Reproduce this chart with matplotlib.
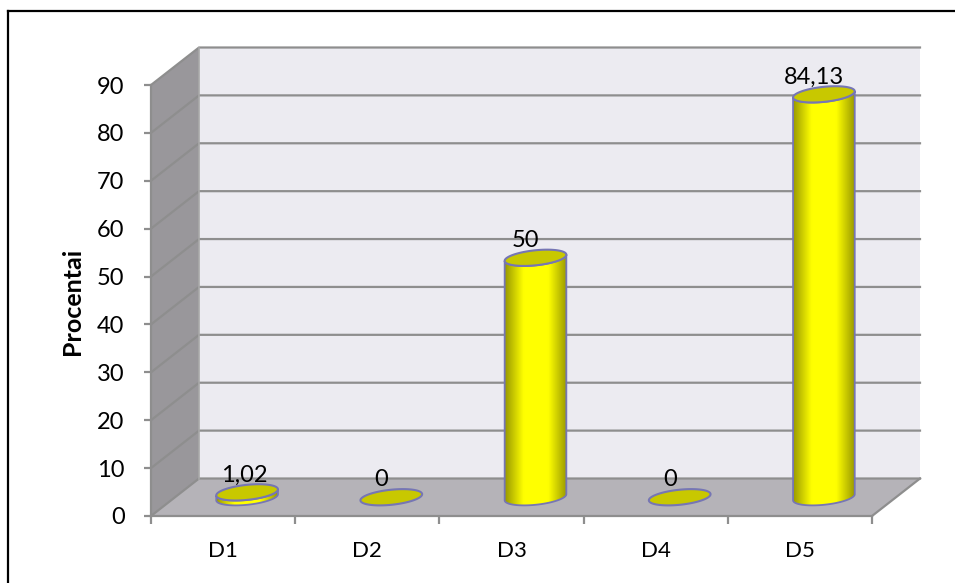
import matplotlib
matplotlib.use("Agg")
import matplotlib.pyplot as plt
import numpy as np
from matplotlib.lines import Line2D
from matplotlib.patches import Polygon

categories = ["D1", "D2", "D3", "D4", "D5"]
values = [1.02, 0, 50, 0, 84.13]
value_labels = ["1,02", "0", "50", "0", "84,13"]
y_ticks = [0, 10, 20, 30, 40, 50, 60, 70, 80, 90]

plt.rcParams['font.family'] = ['Lato', 'DejaVu Sans']

W, H = 955, 583
fig = plt.figure(figsize=(W / 100, H / 100), dpi=100)
ax = fig.add_axes([151 / W, (H - 516) / H, 721 / W, 431 / H])
ax.patch.set_visible(False)
ax.set_xlim(0, 5)
ax.set_ylim(0, 90)

# pixels per data unit, used to shape the ellipses
sx = 721 / 5
sy = 431 / 90
# depth of the fake 3d box, in data units
dx = 48 / sx
dy = 37.5 / sy

GRID = "#8e8e8e"
EDGE = "#7676b4"


def ellipse_xy(cx, cy, t, a=31, b=7.5, tilt=6):
    phi = np.radians(tilt)
    px = a * np.cos(t) * np.cos(phi) - b * np.sin(t) * np.sin(phi)
    py = a * np.cos(t) * np.sin(phi) + b * np.sin(t) * np.cos(phi)
    return np.column_stack([cx + px / sx, cy + py / sy])


# box walls
ax.add_patch(Polygon([(dx, dy), (5 + dx, dy), (5 + dx, 90 + dy), (dx, 90 + dy)],
                     fc="#ecebf1", ec="none", zorder=1, clip_on=False))
ax.add_patch(Polygon([(0, 0), (dx, dy), (dx, 90 + dy), (0, 90)],
                     fc="#99979b", ec="none", zorder=1, clip_on=False))
ax.add_patch(Polygon([(0, 0), (5, 0), (5 + dx, dy), (dx, dy)],
                     fc="#b5b3b8", ec="none", zorder=1, clip_on=False))

for v in y_ticks:
    ax.plot([0, dx, 5 + dx], [v, v + dy, v + dy], color=GRID, lw=1.6, zorder=2,
            clip_on=False, solid_joinstyle="miter")
ax.plot([dx, dx], [dy, 90 + dy], color="#a8a8a8", lw=1.2, zorder=2, clip_on=False)
ax.plot([5, 5 + dx], [0, dy], color=GRID, lw=1.6, zorder=2, clip_on=False)

# cylinders
shade = np.interp(np.linspace(0, 1, 256), [0, 0.3, 0.7, 1], [0.6, 1, 1, 0.6])
gradient = np.dstack([shade, shade, np.zeros(256)]).reshape(1, 256, 3)
upper = np.linspace(0, np.pi, 60)
lower = np.linspace(np.pi, 2 * np.pi, 60)

for i, v in enumerate(values):
    cx = i + 0.5 + dx / 2
    base = dy / 2
    if v > 0:
        outline = np.vstack([ellipse_xy(cx, base, lower), ellipse_xy(cx, base + v, lower[::-1])])
        body = Polygon(outline, fc="none", ec=EDGE, lw=1.3, zorder=4, clip_on=False)
        ax.add_patch(body)
        im = ax.imshow(gradient, extent=[outline[:, 0].min(), outline[:, 0].max(),
                                         outline[:, 1].min(), outline[:, 1].max()],
                       aspect="auto", zorder=3, interpolation="bilinear")
        im.set_clip_path(Polygon(outline, transform=ax.transData))
    cap = ellipse_xy(cx, base + v, np.linspace(0, 2 * np.pi, 120))
    ax.add_patch(Polygon(cap, fc="#c8c800", ec=EDGE, lw=1.5, zorder=5, clip_on=False))
    shift = -3 if i == 0 else -10
    ax.annotate(value_labels[i], (cx, base + v), xytext=(shift * 0.72, 12.5),
                textcoords="offset points", ha="center", va="center",
                fontsize=17, color="black", zorder=6)

ax.set_xlim(0, 5)
ax.set_ylim(0, 90)

# axes, ticks and labels
for side in ["top", "right"]:
    ax.spines[side].set_visible(False)
for side in ["left", "bottom"]:
    ax.spines[side].set_color(GRID)
    ax.spines[side].set_linewidth(1.6)
    ax.spines[side].set_zorder(2.5)

ax.set_yticks(y_ticks)
ax.set_xticks(range(6))
ax.set_xticklabels([])
ax.set_xticks(np.arange(5) + 0.5, minor=True)
ax.set_xticklabels(categories, minor=True)
ax.tick_params(axis="y", length=5, width=1.6, color=GRID, pad=14, labelsize=17)
ax.tick_params(axis="x", which="major", length=6, width=1.6, color=GRID)
ax.tick_params(axis="x", which="minor", length=0, pad=18, labelsize=16)

ax.set_ylabel("Procentai", fontsize=18, fontweight="bold")
ax.yaxis.set_label_coords((84 - 151) / 721, (516 - 301) / 431)

# outer frame, only top and left are inside the image
fig.add_artist(Line2D([8 / W, 1], [1 - 11 / H, 1 - 11 / H], color="black", lw=1.6))
fig.add_artist(Line2D([8 / W, 8 / W], [0, 1 - 11 / H], color="black", lw=1.6))

fig.savefig("out.png", dpi=100)
